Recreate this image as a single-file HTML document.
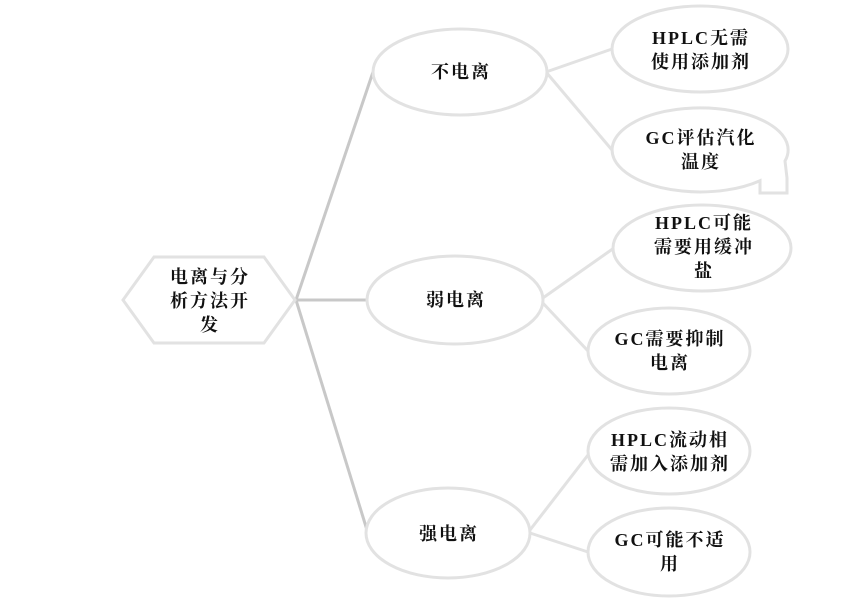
<!DOCTYPE html>
<html><head><meta charset="utf-8"><style>
html,body{margin:0;padding:0;background:#fff;}
svg{display:block}
text{font-family:"Liberation Serif","Noto Serif CJK SC",serif;font-weight:bold;font-size:18px;letter-spacing:2px;fill:#111;text-anchor:middle}
</style></head><body>
<svg width="866" height="602" viewBox="0 0 866 602">
<g stroke="#c8c8c8" stroke-width="3" fill="none">
<line x1="296" y1="300" x2="373" y2="72"/>
<line x1="296" y1="300" x2="367" y2="300"/>
<line x1="296" y1="300" x2="367" y2="530"/>
</g>
<g stroke="#e2e2e2" stroke-width="3" fill="none">
<line x1="546" y1="72" x2="612" y2="49"/>
<line x1="546" y1="72" x2="612" y2="150"/>
<line x1="540" y1="300" x2="614" y2="248"/>
<line x1="540" y1="300" x2="588" y2="351"/>
<line x1="530" y1="530" x2="588" y2="455"/>
<line x1="530" y1="533" x2="588" y2="552"/>
</g>
<g stroke="#e2e2e2" stroke-width="3" fill="#fff">
<polygon points="123,300 154,257 264,257 295,300 264,343 154,343"/>
<ellipse cx="460" cy="72" rx="87" ry="43"/>
<ellipse cx="455" cy="300" rx="88" ry="44"/>
<ellipse cx="448" cy="533" rx="82" ry="45"/>
<ellipse cx="700" cy="49" rx="88" ry="43"/>
<path d="M760,180.7 A88,42 0 1 1 785,161 L787,178 L787,193 L760,193 Z" />
<ellipse cx="702" cy="248" rx="89" ry="43"/>
<ellipse cx="669" cy="351" rx="81" ry="43"/>
<ellipse cx="669" cy="451" rx="81" ry="43"/>
<ellipse cx="669" cy="552" rx="81" ry="44"/>
</g>
<text x="210" y="283">电离与分</text>
<text x="210" y="307">析方法开</text>
<text x="210" y="331">发</text>
<text x="461" y="78">不电离</text>
<text x="456" y="306">弱电离</text>
<text x="449" y="540">强电离</text>
<text x="701" y="44">HPLC无需</text>
<text x="701" y="68">使用添加剂</text>
<text x="701" y="144">GC评估汽化</text>
<text x="701" y="168">温度</text>
<text x="704" y="229">HPLC可能</text>
<text x="704" y="253">需要用缓冲</text>
<text x="704" y="277">盐</text>
<text x="670" y="345">GC需要抑制</text>
<text x="670" y="369">电离</text>
<text x="670" y="446">HPLC流动相</text>
<text x="670" y="470">需加入添加剂</text>
<text x="670" y="546">GC可能不适</text>
<text x="670" y="570">用</text>
</svg>
</body></html>
